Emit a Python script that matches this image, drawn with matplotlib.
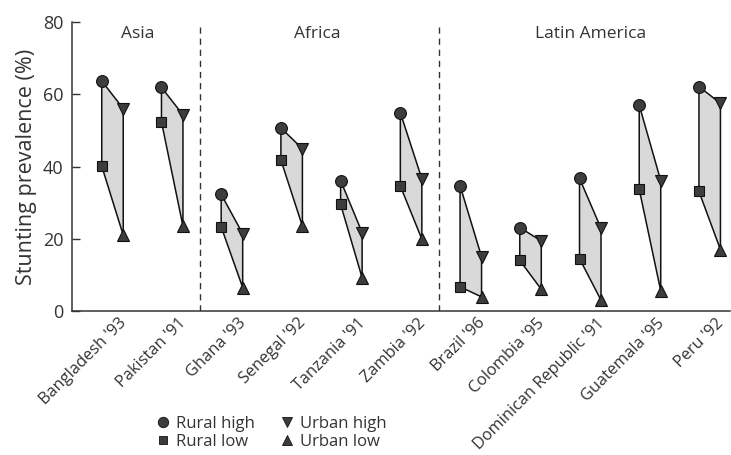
import matplotlib
matplotlib.use('Agg')
import matplotlib.pyplot as plt
from matplotlib.lines import Line2D

plt.rcParams['font.family'] = ['Open Sans', 'DejaVu Sans']

countries = ["Bangladesh '93", "Pakistan '91", "Ghana '93", "Senegal '92", "Tanzania '91",
             "Zambia '92", "Brazil '96", "Colombia '95", "Dominican Republic '91",
             "Guatemala '95", "Peru '92"]
rural_high = [63.7, 61.9, 32.3, 50.7, 36.1, 54.9, 34.7, 23.1, 36.7, 57.0, 62.1]
rural_low = [40.1, 52.4, 23.3, 41.8, 29.5, 34.6, 6.7, 14.0, 14.5, 33.7, 33.1]
urban_high = [56.0, 54.3, 21.4, 44.9, 21.7, 36.6, 15.0, 19.4, 22.9, 36.1, 57.5]
urban_low = [21.0, 23.5, 6.5, 23.5, 9.2, 19.9, 3.9, 6.0, 3.0, 5.6, 17.0]
regions = ['Asia', 'Africa', 'Latin America']
region_sizes = [2, 4, 5]

TXT = '#333333'
MK = '#3d3d3d'
off = 0.18

fig = plt.figure(figsize=(7.31, 4.55), dpi=100)
ax = fig.add_axes([72 / 731, 1 - 311 / 455, (730 - 72) / 731, 289 / 455])

for i in range(len(countries)):
    xr, xu = i - off, i + off
    ax.fill([xr, xu, xu, xr], [rural_high[i], urban_high[i], urban_low[i], rural_low[i]],
            facecolor='#d9d9d9', edgecolor='#111111', linewidth=1.1, zorder=2)
    ax.plot(xr, rural_high[i], 'o', ms=8.5, mfc=MK, mec='#111111', mew=0.8, zorder=3)
    ax.plot(xr, rural_low[i], 's', ms=7, mfc=MK, mec='#111111', mew=0.8, zorder=3)
    ax.plot(xu, urban_high[i], 'v', ms=8, mfc=MK, mec='#111111', mew=0.8, zorder=3)
    ax.plot(xu, urban_low[i], '^', ms=8, mfc=MK, mec='#111111', mew=0.8, zorder=3)
    # rotated country label under each pair
    ax.annotate(countries[i], xy=(i, 0), xycoords=('data', 'axes fraction'),
                xytext=(4.5, -3), textcoords='offset points', rotation=45,
                ha='right', va='top', rotation_mode='anchor', fontsize=11.8, color=TXT)

# region dividers and titles
start = 0
for k, (name, n) in enumerate(zip(regions, region_sizes)):
    cx = start + (n - 1) / 2 - (0.07 if k < 2 else 0)
    ax.text(cx, 76.8, name, ha='center', va='center', fontsize=12.5, color=TXT)
    if k > 0:
        ax.plot([start - 0.54, start - 0.54], [0, 79.5], color='#333333', lw=1,
                ls=(0, (4.5, 3.5)), zorder=1)
    start += n

ax.set_xlim(-0.678, 10.34)
ax.set_ylim(0, 80)
ax.set_yticks([0, 20, 40, 60, 80])
ax.set_xticks([])
ax.tick_params(axis='y', direction='in', length=6, width=1, color=TXT, labelsize=13,
               labelcolor=TXT, pad=6)
ax.set_ylabel('Stunting prevalence (%)', fontsize=15.5, color=TXT, labelpad=4)
for s in ['top', 'right']:
    ax.spines[s].set_visible(False)
for s in ['left', 'bottom']:
    ax.spines[s].set_color(TXT)
    ax.spines[s].set_linewidth(1.1)

handles = [Line2D([], [], ls='none', marker='o', ms=7.5, mfc=MK, mec='#111111', mew=0.6),
           Line2D([], [], ls='none', marker='s', ms=6, mfc=MK, mec='#111111', mew=0.6),
           Line2D([], [], ls='none', marker='v', ms=7, mfc=MK, mec='#111111', mew=0.6),
           Line2D([], [], ls='none', marker='^', ms=7, mfc=MK, mec='#111111', mew=0.6)]
labels = ['Rural high', 'Rural low', 'Urban high', 'Urban low']
fig.legend(handles, labels, ncol=2, frameon=False, loc='upper left',
           bbox_to_anchor=(156 / 731, 1 - 416 / 455), fontsize=12, labelcolor=TXT,
           handlelength=0.8, handletextpad=0.4, columnspacing=1.5, labelspacing=0.1,
           borderpad=0, borderaxespad=0)

plt.savefig('out.png', dpi=100)
